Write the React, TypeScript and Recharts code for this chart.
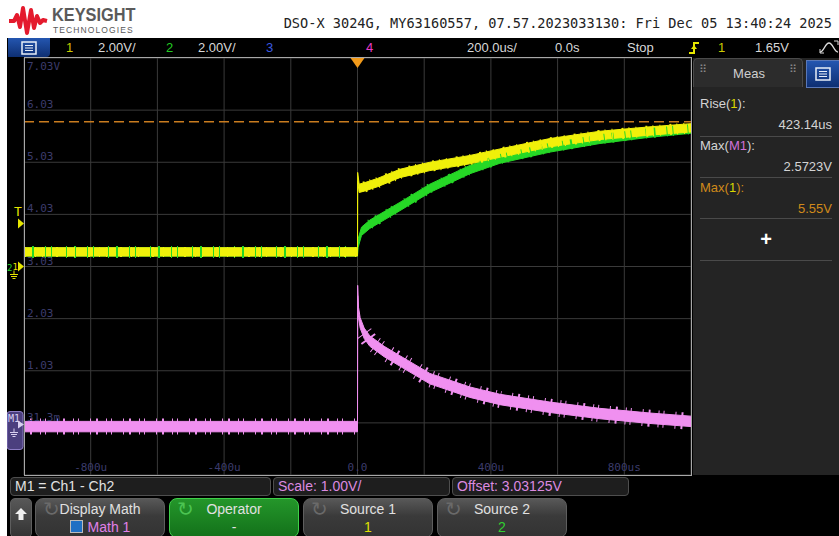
import React from "react";
import {
  ComposedChart,
  Area,
  Line,
  XAxis,
  YAxis,
  CartesianGrid,
  ReferenceLine,
  ReferenceDot,
} from "recharts";

// time base 200us/div, trigger at centre
const timeTicks = [-1000, -800, -600, -400, -200, 0, 200, 400, 600, 800, 1000];
const timeLabels = ["", "-800u", "", "-400u", "", "0.0", "", "400u", "", "800us", ""];

// math grid: 1.00V/div, offset 3.03125V
const mathTicks = [-0.96875, 0.03125, 1.03125, 2.03125, 3.03125, 4.03125, 5.03125, 6.03125, 7.03125];
const mathLabels = ["", "31.3m", "1.03", "2.03", "3.03", "4.03", "5.03", "6.03", "7.03V"];

// channel 1 (yellow), volts vs us
const ch1Time = [-1000, -500, 0, 0.5, 5, 20, 60, 127, 217, 337, 427, 577, 727, 877, 1000];
const ch1Volts = [0.56, 0.56, 0.56, 3.45, 3.0, 3.05, 3.22, 3.57, 3.84, 4.1, 4.35, 4.75, 5.03, 5.2, 5.32];

// channel 2 (green)
const ch2Time = [-1000, -500, 0, 2, 12, 37, 82, 127, 217, 337, 427, 577, 727, 877, 1000];
const ch2Volts = [0.56, 0.56, 0.56, 0.9, 1.35, 1.62, 1.96, 2.3, 3.0, 3.72, 4.12, 4.55, 4.88, 5.12, 5.27];

// M1 = Ch1 - Ch2 (pink)
const m1Time = [-1000, -500, 0, 0.5, 3, 8, 20, 37, 80, 127, 217, 337, 427, 577, 727, 877, 1000];
const m1Volts = [-0.04, -0.04, -0.04, 2.57, 2.15, 1.95, 1.75, 1.6, 1.4, 1.22, 0.88, 0.62, 0.48, 0.33, 0.21, 0.12, 0.06];

const ch1Max = 5.55;
const trigLevel = 1.65;

const YELLOW = "#f0f00a";
const GREEN = "#26d826";
const PINK = "#f090f0";
const ORANGE = "#c97c1f";
const LABEL = "#3c3c6c";

// trace thickness (half height, in volts of each axis)
const CH_HALF = 0.16;
const M1_HALF = 0.1;

const toBand = (time: number[], volts: number[], half: number) =>
  time.map((t, i) => ({ t, v: volts[i], band: [volts[i] - half, volts[i] + half] }));

const ch1Data = toBand(ch1Time, ch1Volts, CH_HALF);
const ch2Data = toBand(ch2Time, ch2Volts, CH_HALF);
const m1Data = toBand(m1Time, m1Volts, M1_HALF);

// noise texture only on the flat / slow parts, not on the edge at t=0
const pre = (d: { t: number }[]) => d.filter((p) => p.t <= 0);
const post = (d: { t: number }[], from: number) => d.filter((p) => p.t >= from);

const mono = '"DejaVu Sans Mono", monospace';
const sans = '"Liberation Sans", Arial, sans-serif';

const MathTick = (props: any) => {
  const { x, y, payload } = props;
  const label = mathLabels[mathTicks.indexOf(payload.value)] || "";
  const top = payload.value === mathTicks[mathTicks.length - 1];
  return (
    <text x={x + 3} y={top ? y + 3 : y - 2} fill={LABEL} fontSize={11} fontFamily={mono} textAnchor="start">
      {label}
    </text>
  );
};

const TimeTick = (props: any) => {
  const { x, y, payload } = props;
  const label = timeLabels[timeTicks.indexOf(payload.value)] || "";
  return (
    <text x={x} y={y - 4} fill={LABEL} fontSize={11} fontFamily={mono} textAnchor="middle">
      {label}
    </text>
  );
};

const TrigPosMarker = (p: any) => (
  <polygon points={`${p.cx - 7},${p.cy} ${p.cx + 7},${p.cy} ${p.cx},${p.cy + 10}`} fill="#f29a1a" />
);

const TrigLevelMarker = (p: any) => (
  <g>
    <text x={p.cx - 10} y={p.cy - 7} fill="#e6e600" fontSize={13} fontFamily={mono}>
      T
    </text>
    <polygon points={`${p.cx - 6},${p.cy - 5} ${p.cx},${p.cy} ${p.cx - 6},${p.cy + 5}`} fill="#e6e600" />
  </g>
);

const GroundSymbol = ({ x, y, color }: { x: number; y: number; color: string }) => (
  <g stroke={color} strokeWidth={1}>
    <line x1={x} y1={y} x2={x} y2={y + 4} />
    <line x1={x - 4} y1={y + 4} x2={x + 4} y2={y + 4} />
    <line x1={x - 3} y1={y + 6} x2={x + 3} y2={y + 6} />
    <line x1={x - 1.5} y1={y + 8} x2={x + 1.5} y2={y + 8} />
  </g>
);

const ChGroundMarker = (p: any) => (
  <g>
    <text x={p.cx - 17} y={p.cy + 4} fill={GREEN} fontSize={9} fontFamily={mono}>
      2
    </text>
    <text x={p.cx - 11.5} y={p.cy + 3} fill="#e6e600" fontSize={9} fontFamily={mono}>
      1
    </text>
    <polygon points={`${p.cx - 6},${p.cy - 5} ${p.cx},${p.cy} ${p.cx - 6},${p.cy + 5}`} fill="#e6e600" />
    <GroundSymbol x={p.cx - 10} y={p.cy + 4} color="#e6e600" />
  </g>
);

const M1GroundMarker = (p: any) => (
  <g>
    <rect x={p.cx - 17} y={p.cy - 13} width={16} height={38} rx={3} fill="#4b3f7e" stroke="#8c7cc4" />
    <text x={p.cx - 16} y={p.cy - 3} fill="#d8d0f0" fontSize={10} fontFamily={mono}>
      M1
    </text>
    <polygon points={`${p.cx - 6},${p.cy - 4} ${p.cx},${p.cy} ${p.cx - 6},${p.cy + 4}`} fill="#d8d0f0" />
    <GroundSymbol x={p.cx - 10} y={p.cy + 4} color="#d8d0f0" />
  </g>
);

const noise = (data: any[], axis: string, color: string, width: number, dash: string) => (
  <Line
    data={data}
    yAxisId={axis}
    dataKey="v"
    stroke={color}
    strokeWidth={width}
    strokeDasharray={dash}
    dot={false}
    activeDot={false}
    isAnimationActive={false}
  />
);

const band = (data: any[], axis: string, color: string) => (
  <Area
    data={data}
    yAxisId={axis}
    dataKey="band"
    type="linear"
    stroke={color}
    strokeWidth={1}
    fill={color}
    fillOpacity={1}
    dot={false}
    activeDot={false}
    isAnimationActive={false}
  />
);

const Scope = () => (
  <ComposedChart width={684} height={418} margin={{ top: 0, right: 0, bottom: 1, left: 17 }}>
    <CartesianGrid stroke="#3a3a3a" yAxisId="math" />
    <XAxis
      dataKey="t"
      type="number"
      domain={[-1000, 1000]}
      ticks={timeTicks}
      tick={<TimeTick />}
      axisLine={false}
      tickLine={false}
      tickSize={0}
      tickMargin={0}
      mirror
      allowDataOverflow
    />
    <YAxis
      yAxisId="math"
      type="number"
      domain={[mathTicks[0], mathTicks[mathTicks.length - 1]]}
      ticks={mathTicks}
      tick={<MathTick />}
      axisLine={false}
      tickLine={false}
      tickSize={0}
      tickMargin={0}
      mirror
      allowDataOverflow
    />
    <YAxis yAxisId="ch" type="number" domain={[-8, 8]} hide allowDataOverflow />

    <ReferenceLine yAxisId="ch" y={ch1Max} stroke={ORANGE} strokeWidth={1.5} strokeDasharray="10 5" />

    {/* ch2 (green) */}
    {noise(pre(ch2Data), "ch", GREEN, 12, "1 7 2 11 1 5 1 14")}
    {noise(post(ch2Data, 30), "ch", GREEN, 10, "1 7 2 11 1 5 1 14")}
    {band(ch2Data, "ch", GREEN)}

    {/* ch1 (yellow) */}
    {noise(pre(ch1Data), "ch", YELLOW, 10, "2 9 1 6 1 13")}
    {noise(post(ch1Data, 20), "ch", YELLOW, 11, "2 5 1 6 1 9")}
    {band(ch1Data, "ch", YELLOW)}

    {/* M1 (pink) */}
    {noise(pre(m1Data), "math", PINK, 16, "1 5 2 8 1 4 1 11")}
    {noise(post(m1Data, 20), "math", PINK, 17, "1 5 2 8 1 4 1 11")}
    {band(m1Data, "math", PINK)}

    <ReferenceDot yAxisId="math" x={0} y={mathTicks[mathTicks.length - 1]} ifOverflow="visible" shape={<TrigPosMarker />} />
    <ReferenceDot yAxisId="ch" x={-1000} y={trigLevel} ifOverflow="visible" shape={<TrigLevelMarker />} />
    <ReferenceDot yAxisId="ch" x={-1000} y={0} ifOverflow="visible" shape={<ChGroundMarker />} />
    <ReferenceDot yAxisId="math" x={-1000} y={0} ifOverflow="visible" shape={<M1GroundMarker />} />
  </ComposedChart>
);

const abs = (left: number, top: number, extra: React.CSSProperties = {}): React.CSSProperties => ({
  position: "absolute",
  left,
  top,
  ...extra,
});

const MenuIcon = () => (
  <svg width={16} height={14} viewBox="0 0 16 14">
    <rect x={1} y={1} width={14} height={12} fill="none" stroke="#e8eef8" strokeWidth={1.5} />
    <line x1={4} y1={4.5} x2={12} y2={4.5} stroke="#e8eef8" />
    <line x1={4} y1={7} x2={12} y2={7} stroke="#e8eef8" />
    <line x1={4} y1={9.5} x2={12} y2={9.5} stroke="#e8eef8" />
  </svg>
);

const StatusBar = () => {
  const t = (left: number, text: string, color = "#d8d8d8") => (
    <span style={abs(left, 2, { color, fontSize: 13, whiteSpace: "nowrap" })}>{text}</span>
  );
  return (
    <div style={abs(7, 38, { width: 832, height: 19, background: "#000" })}>
      <div
        style={abs(1, 0, {
          width: 42,
          height: 19,
          background: "linear-gradient(#2456b0, #0e2f72)",
          borderRadius: "0 0 4px 0",
          display: "flex",
          alignItems: "center",
          justifyContent: "center",
        })}
      >
        <MenuIcon />
      </div>
      {t(59, "1", "#cccc00")}
      {t(91, "2.00V/")}
      {t(159, "2", "#22cc22")}
      {t(191, "2.00V/")}
      {t(259, "3", "#3a5ae0")}
      {t(359, "4", "#e83cc8")}
      {t(460, "200.0us/")}
      {t(548, "0.0s")}
      {t(620, "Stop")}
      <svg style={abs(681, 3)} width={12} height={14}>
        <polyline points="1,12 6,12 6,2 11,2" fill="none" stroke="#e6e600" strokeWidth={2} />
        <polygon points="3,8 6,4 9,8" fill="#e6e600" />
      </svg>
      {t(711, "1", "#cccc00")}
      {t(748, "1.65V")}
      <svg style={abs(812, 2)} width={20} height={15}>
        <path d="M1,12 C5,12 6,3 10,3 C14,3 15,12 19,12" fill="none" stroke="#ddd" strokeWidth={1.4} />
        <polyline points="15,1 19,1 19,5" fill="none" stroke="#ddd" />
        <polyline points="1,9 1,13 5,13" fill="none" stroke="#ddd" />
      </svg>
    </div>
  );
};

const Logo = () => (
  <div style={abs(8, 4, { width: 140, height: 32 })}>
    <svg style={abs(0, 0)} width={40} height={32}>
      <path
        d="M1,17 L6,17 L9,11 L12,23 L15,4 L19,29 L23,6 L26,24 L29,12 L32,19 L35,16 L39,17"
        fill="none"
        stroke="#e41a2d"
        strokeWidth={4}
        strokeLinejoin="round"
      />
    </svg>
    <span
      style={abs(44, 0, {
        fontSize: 19,
        fontWeight: 700,
        color: "#5a5a5a",
        transform: "scaleX(0.86)",
        transformOrigin: "left",
        whiteSpace: "nowrap",
      })}
    >
      KEYSIGHT
    </span>
    <span style={abs(45, 21, { fontSize: 8.5, color: "#5a5a5a", letterSpacing: 1.1, whiteSpace: "nowrap" })}>
      TECHNOLOGIES
    </span>
  </div>
);

const MeasPanel = () => {
  const row = (top: number, content: React.ReactNode, right = false, color = "#d4d4d4") => (
    <div
      style={abs(7, top, {
        width: 132,
        fontSize: 13,
        color,
        textAlign: right ? "right" : "left",
        whiteSpace: "nowrap",
      })}
    >
      {content}
    </div>
  );
  const sep = (top: number) => <div style={abs(7, top, { width: 132, height: 1, background: "#4a4a4a" })} />;
  return (
    <div style={abs(693, 58, { width: 146, height: 417, background: "#242424" })}>
      <div
        style={abs(0, 0, {
          width: 110,
          height: 29,
          background: "#2c2c2c",
          border: "1px solid #4a4a4a",
          borderBottom: "none",
          borderRadius: "5px 5px 0 0",
          boxSizing: "border-box",
        })}
      >
        <span style={abs(5, 4, { color: "#888", fontSize: 11 })}>⠿</span>
        <span style={abs(0, 7, { width: 110, textAlign: "center", color: "#cfcfcf", fontSize: 13 })}>Meas</span>
        <span style={abs(95, 4, { color: "#888", fontSize: 11 })}>⠿</span>
      </div>
      <div
        style={abs(113, 2, {
          width: 33,
          height: 28,
          background: "linear-gradient(#2456b0, #0e2f72)",
          border: "1px solid #5a78b8",
          borderRight: "none",
          boxSizing: "border-box",
          display: "flex",
          alignItems: "center",
          justifyContent: "center",
        })}
      >
        <MenuIcon />
      </div>
      {row(38, <>Rise(<span style={{ color: "#d8d800" }}>1</span>):</>)}
      {row(59, "423.14us", true)}
      {sep(78)}
      {row(80, <>Max(<span style={{ color: "#d070d8" }}>M1</span>):</>)}
      {row(101, "2.5723V", true)}
      {sep(119)}
      {row(122, <>Max(<span style={{ color: "#d8d800" }}>1</span>):</>, false, "#d08a1a")}
      {row(143, "5.55V", true, "#d08a1a")}
      {sep(160)}
      <div style={abs(0, 170, { width: 146, textAlign: "center", color: "#fff", fontSize: 20, fontWeight: 700 })}>+</div>
      {sep(202)}
    </div>
  );
};

const InfoBox = ({ left, width, text, color }: { left: number; width: number; text: string; color: string }) => (
  <div
    style={abs(left, 477, {
      width,
      height: 19,
      background: "#1e1e1e",
      border: "1px solid #4e4e4e",
      borderRadius: 4,
      boxSizing: "border-box",
      color,
      fontSize: 14,
      paddingLeft: 4,
      lineHeight: "17px",
      whiteSpace: "nowrap",
    })}
  >
    {text}
  </div>
);

const SoftKey = ({
  left,
  title,
  sub,
  green = false,
}: {
  left: number;
  title: string;
  sub: React.ReactNode;
  green?: boolean;
}) => (
  <div
    style={abs(left, 498, {
      width: 130,
      height: 40,
      background: green ? "linear-gradient(#24962a, #13711a)" : "linear-gradient(#585858, #3a3a3a 45%, #333)",
      border: green ? "1px solid #3fd04a" : "1px solid #5e5e5e",
      borderRadius: 8,
      boxSizing: "border-box",
    })}
  >
    <span style={abs(7, -2, { fontSize: 20, color: green ? "#4cc452" : "#6a6a6a" })}>↻</span>
    <div style={abs(0, 2, { width: 128, textAlign: "center", color: "#e0e0e0", fontSize: 14 })}>{title}</div>
    <div style={abs(0, 20, { width: 128, textAlign: "center", fontSize: 14 })}>{sub}</div>
  </div>
);

const BottomBar = () => (
  <>
    <InfoBox left={10} width={261} text="M1 = Ch1 - Ch2" color="#e2e2e2" />
    <InfoBox left={273} width={177} text="Scale: 1.00V/" color="#dc8ae0" />
    <InfoBox left={452} width={177} text="Offset: 3.03125V" color="#dc8ae0" />
    <div
      style={abs(10, 498, {
        width: 22,
        height: 40,
        background: "linear-gradient(#585858, #333)",
        border: "1px solid #5e5e5e",
        borderRadius: 5,
        boxSizing: "border-box",
      })}
    >
      <svg style={abs(4, 9)} width={12} height={12}>
        <polygon points="6,0 12,6 8.5,6 8.5,12 3.5,12 3.5,6 0,6" fill="#f0f0f0" />
      </svg>
    </div>
    <SoftKey
      left={35}
      title="Display Math"
      sub={
        <>
          <span
            style={{
              display: "inline-block",
              width: 11,
              height: 11,
              background: "#1f6fc4",
              border: "1px solid #bbb",
              verticalAlign: -1,
              marginRight: 5,
            }}
          />
          <span style={{ color: "#e080e8" }}>Math 1</span>
        </>
      }
    />
    <SoftKey left={169} title="Operator" sub={<span style={{ color: "#e0e0e0" }}>-</span>} green />
    <SoftKey left={303} title="Source 1" sub={<span style={{ color: "#e0e000" }}>1</span>} />
    <SoftKey left={437} title="Source 2" sub={<span style={{ color: "#30d030" }}>2</span>} />
  </>
);

export default function App() {
  return (
    <div
      style={{
        position: "fixed",
        left: 0,
        top: 0,
        width: 839,
        height: 536,
        background: "#fff",
        overflow: "hidden",
        fontFamily: sans,
      }}
    >
      <Logo />
      <div
        style={abs(0, 15, {
          width: 832,
          textAlign: "right",
          fontFamily: mono,
          fontSize: 13.6,
          color: "#222",
          whiteSpace: "nowrap",
        })}
      >
        DSO-X 3024G, MY63160557, 07.57.2023033130: Fri Dec 05 13:40:24 2025
      </div>
      <div style={abs(7, 38, { width: 832, height: 498, background: "#000" })} />
      <StatusBar />
      <div style={abs(7, 58)}>
        <Scope />
      </div>
      <div
        style={abs(24, 57, {
          width: 668,
          height: 419,
          border: "1px solid #a8a8a8",
          boxSizing: "border-box",
          pointerEvents: "none",
        })}
      />
      <MeasPanel />
      <BottomBar />
    </div>
  );
}
